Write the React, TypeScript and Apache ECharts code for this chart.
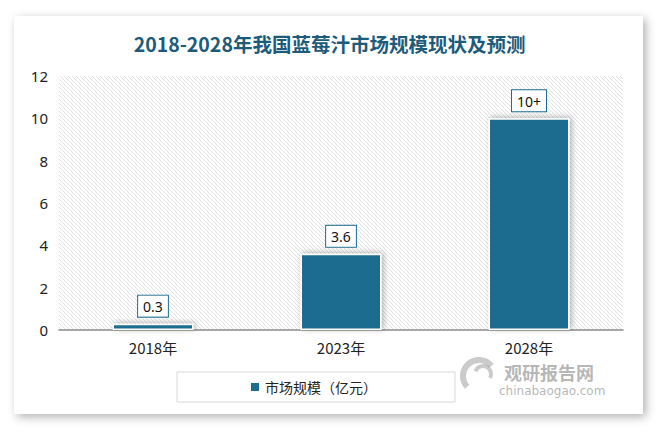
import React, { useEffect, useRef } from "react";
import * as echarts from "echarts";

const categories = ["2018年", "2023年", "2028年"];
const values = [0.3, 3.6, 10];
const valueLabels = ["0.3", "3.6", "10+"];
const seriesName = "市场规模（亿元）";
const titleText = "2018-2028年我国蓝莓汁市场规模现状及预测";

function makeHatch(): HTMLCanvasElement {
  const c = document.createElement("canvas");
  c.width = 4;
  c.height = 4;
  const ctx = c.getContext("2d")!;
  ctx.fillStyle = "#ffffff";
  ctx.fillRect(0, 0, 4, 4);
  ctx.strokeStyle = "#e2e2e2";
  ctx.lineWidth = 1;
  ctx.beginPath();
  ctx.moveTo(-1, -1);
  ctx.lineTo(5, 5);
  ctx.moveTo(-3, 1);
  ctx.lineTo(1, 5);
  ctx.moveTo(3, -1);
  ctx.lineTo(5, 1);
  ctx.stroke();
  return c;
}

export default function App() {
  const ref = useRef<HTMLDivElement>(null);
  useEffect(() => {
    document.body.style.margin = "0";
    const chart = echarts.init(ref.current!, null, { renderer: "svg" });
    const hatch = makeHatch();
    chart.setOption({
      animation: false,
      backgroundColor: "#ffffff",
      title: {
        text: titleText,
        left: "center",
        top: 29,
        textStyle: {
          fontFamily: "Noto Sans CJK SC",
          fontSize: 19.5,
          fontWeight: "bold",
          color: "#1d5b7b",
        },
      },
      graphic: [
        {
          type: "rect",
          z: -10,
          shape: { x: 14, y: 16, width: 629, height: 398 },
          style: {
            fill: "#ffffff",
            shadowBlur: 10,
            shadowColor: "rgba(0,0,0,0.3)",
            shadowOffsetX: 3,
            shadowOffsetY: 3,
          },
        },
        {
          type: "text",
          left: 504,
          top: 363,
          z: 10,
          style: {
            text: "观研报告网",
            fontFamily: "Noto Sans CJK SC",
            fontSize: 18,
            fontWeight: "bold",
            fill: "rgba(120,120,120,0.55)",
          },
        },
        {
          type: "text",
          left: 499,
          top: 385,
          z: 10,
          style: {
            text: "chinabaogao.com",
            fontFamily: "DejaVu Sans",
            fontSize: 12,
            fill: "rgba(120,120,120,0.55)",
          },
        },
        {
          type: "arc",
          z: 10,
          shape: { cx: 479, cy: 376, r: 16, startAngle: 2.4, endAngle: 5.6 },
          style: { stroke: "rgba(140,140,140,0.45)", lineWidth: 6, fill: "none" },
        },
        {
          type: "arc",
          z: 10,
          shape: { cx: 483, cy: 374, r: 8, startAngle: 3.5, endAngle: 6.8 },
          style: { stroke: "rgba(140,140,140,0.45)", lineWidth: 4, fill: "none" },
        },
      ],
      grid: {
        left: 59,
        right: 36,
        top: 76,
        bottom: 102,
        show: true,
        borderWidth: 0,
        backgroundColor: { image: hatch, repeat: "repeat" },
      },
      legend: {
        left: 177,
        top: 372,
        padding: [8, 78, 8, 72],
        borderColor: "#d9d9d9",
        borderWidth: 1,
        itemWidth: 10,
        itemHeight: 10,
        itemGap: 6,
        textStyle: {
          fontFamily: "Noto Sans CJK SC",
          fontSize: 14,
          color: "#222",
        },
        data: [{ name: seriesName, icon: "rect" }],
      },
      xAxis: {
        type: "category",
        data: categories,
        axisLine: { lineStyle: { color: "#8c8c8c", width: 1.5 } },
        axisTick: { show: false },
        axisLabel: {
          fontFamily: "Noto Sans CJK SC",
          fontSize: 15,
          color: "#222",
          margin: 10,
        },
      },
      yAxis: {
        type: "value",
        min: 0,
        max: 12,
        interval: 2,
        axisLine: { show: false },
        axisTick: { show: false },
        splitLine: { show: false },
        axisLabel: {
          fontFamily: "Noto Sans",
          fontSize: 15,
          color: "#222",
          margin: 11,
        },
      },
      series: [
        {
          name: seriesName,
          type: "bar",
          data: values,
          barWidth: 81,
          itemStyle: {
            color: "#1d6c8f",
            borderColor: "#ffffff",
            borderWidth: 1.5,
            shadowBlur: 6,
            shadowColor: "rgba(0,0,0,0.3)",
            shadowOffsetX: 2,
            shadowOffsetY: -1,
          },
          label: {
            show: true,
            position: "top",
            distance: 7,
            formatter: (p: any) => valueLabels[p.dataIndex],
            backgroundColor: "#ffffff",
            borderColor: "#1d6c8f",
            borderWidth: 1,
            padding: [4, 5, 3, 5],
            fontFamily: "Noto Sans",
            fontSize: 14,
            color: "#111",
          },
        },
      ],
    });
    return () => chart.dispose();
  }, []);
  return <div ref={ref} style={{ width: 659, height: 432 }} />;
}
